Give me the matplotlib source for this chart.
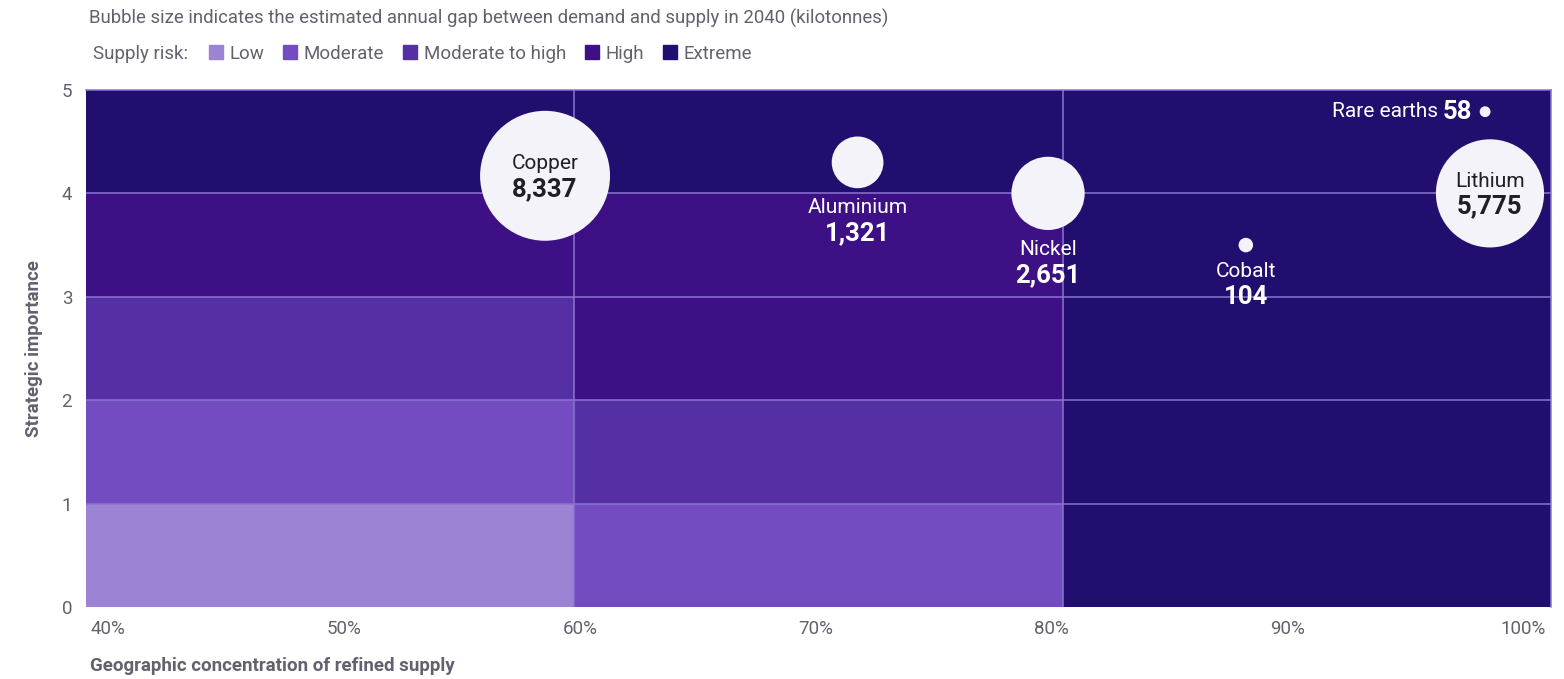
import numpy as np
import matplotlib.pyplot as plt
from matplotlib.lines import Line2D
from matplotlib.transforms import ScaledTranslation

plt.rcParams['font.family'] = ['Roboto', 'DejaVu Sans']

# risk levels and colours
risk_levels = ['Low', 'Moderate', 'Moderate to high', 'High', 'Extreme']
risk_colors = ['#9c83d4', '#744cc1', '#5430a4', '#3e1085', '#220e6e']

# background grid: column starts (%) and risk level per row (importance 0-1 ... 4-5)
col_starts = [40, 60, 80]
col_width = 20
risk_grid = [
    ['Low', 'Moderate', 'Moderate to high', 'High', 'Extreme'],
    ['Moderate', 'Moderate to high', 'High', 'High', 'Extreme'],
    ['Extreme', 'Extreme', 'Extreme', 'Extreme', 'Extreme'],
]

# bubbles
minerals = ['Copper', 'Aluminium', 'Nickel', 'Cobalt', 'Rare earths', 'Lithium']
concentration = [58.8, 71.6, 79.4, 87.5, 97.3, 97.5]
importance = [4.17, 4.30, 4.00, 3.50, 4.79, 4.00]
gap_kt = [8337, 1321, 2651, 104, 58, 5775]
label_pos = ['inside', 'below', 'below', 'below', 'left', 'inside']

x_ticks = [40, 50, 60, 70, 80, 90, 100]
x_ticklabels = ['40%', '50%', '60%', '70%', '80%', '90%', '100%']
y_ticks = [0, 1, 2, 3, 4, 5]

bubble_col = '#f4f3f9'
grid_col = '#8b74d2'
text_grey = '#62626e'

fig = plt.figure(figsize=(15.64, 6.79), dpi=100)
ax = fig.add_axes([0.055, 0.106, 0.9367, 0.7615])

for c, x0 in enumerate(col_starts):
    for r, lvl in enumerate(risk_grid[c]):
        ax.bar(x0, 1, width=col_width, bottom=r, align='edge',
               color=risk_colors[risk_levels.index(lvl)], linewidth=0, zorder=1)

for gx in [60, 80]:
    ax.axvline(gx, color=grid_col, lw=1.1, zorder=2)
for gy in [1, 2, 3, 4]:
    ax.axhline(gy, color=grid_col, lw=1.1, zorder=2)

ax.set_xlim(40, 100)
ax.set_ylim(0, 5)

# bubble area proportional to gap
size_scale = 1.05
sizes = [v * size_scale for v in gap_kt]
ax.scatter(concentration, importance, s=sizes, color=bubble_col, linewidth=0, zorder=3, clip_on=False)

px = 0.72  # points per pixel
name_fs = 15
val_fs = 18.5
for name, x, y, v, s, pos in zip(minerals, concentration, importance, gap_kt, sizes, label_pos):
    r = np.sqrt(s) / 2
    val = f'{v:,}'
    if pos == 'inside':
        ax.annotate(name, (x, y), xytext=(0, 12 * px), textcoords='offset points',
                    ha='center', va='center', fontsize=name_fs, color='#1f1f24', zorder=4)
        ax.annotate(val, (x, y), xytext=(0, -13 * px), textcoords='offset points',
                    ha='center', va='center', fontsize=val_fs, fontweight='bold', color='#1f1f24', zorder=4)
    elif pos == 'below':
        ax.annotate(name, (x, y), xytext=(0, -(r + 19 * px)), textcoords='offset points',
                    ha='center', va='center', fontsize=name_fs, color='white', zorder=4)
        ax.annotate(val, (x, y), xytext=(0, -(r + 45 * px)), textcoords='offset points',
                    ha='center', va='center', fontsize=val_fs, fontweight='bold', color='white', zorder=4)
    else:
        ax.annotate(val, (x, y), xytext=(-13 * px, 0), textcoords='offset points',
                    ha='right', va='center', fontsize=val_fs, fontweight='bold', color='white', zorder=4)
        ax.annotate(name, (x, y), xytext=(-47 * px, 0), textcoords='offset points',
                    ha='right', va='center', fontsize=name_fs, color='white', zorder=4)

# axes styling
for side in ['left', 'bottom']:
    ax.spines[side].set_visible(False)
for side in ['top', 'right']:
    ax.spines[side].set_color(grid_col)
    ax.spines[side].set_linewidth(1.1)

ax.set_yticks(y_ticks)
ax.set_yticklabels([str(t) for t in y_ticks])
ax.set_xticks(x_ticks)
ax.set_xticklabels(x_ticklabels)
ax.tick_params(axis='both', length=0, labelsize=13.5, colors=text_grey)
ax.tick_params(axis='y', pad=10)
ax.tick_params(axis='x', pad=9)
for i, lab in enumerate(ax.get_xticklabels()):
    shift = (22 - 8.3 * i) * px
    lab.set_transform(lab.get_transform() + ScaledTranslation(shift / 72, 0, fig.dpi_scale_trans))

ax.set_ylabel('Strategic importance', fontsize=13.5, fontweight='bold', color=text_grey, labelpad=13)
fig.text(90 / 1564, 1 - 666 / 679, 'Geographic concentration of refined supply',
         fontsize=13.5, fontweight='bold', color=text_grey, ha='left', va='center')

# header
fig.text(89 / 1564, 1 - 18 / 679,
         'Bubble size indicates the estimated annual gap between demand and supply in 2040 (kilotonnes)',
         fontsize=13.4, color=text_grey, ha='left', va='center')
fig.text(93 / 1564, 1 - 54 / 679, 'Supply risk:', fontsize=13.5, color=text_grey, ha='left', va='center')
handles = [Line2D([], [], marker='s', linestyle='', markersize=9.5, color=c, label=l)
           for l, c in zip(risk_levels, risk_colors)]
leg = fig.legend(handles=handles, loc='center left', bbox_to_anchor=(209 / 1564, 1 - 54 / 679),
                 ncol=5, frameon=False, fontsize=13.5, handlelength=0.75, handletextpad=0.35,
                 columnspacing=1.0, labelcolor=text_grey, borderaxespad=0, borderpad=0)

fig.savefig('out.png', dpi=100)
